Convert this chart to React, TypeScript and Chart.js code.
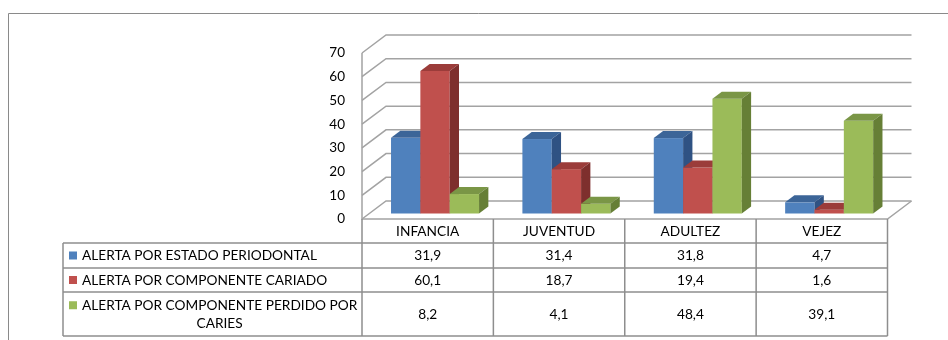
import React, { useEffect, useRef } from 'react';
import { Chart, registerables } from 'chart.js';

Chart.register(...registerables);

// ---------- data ----------
const CATEGORIES = ['INFANCIA', 'JUVENTUD', 'ADULTEZ', 'VEJEZ'];
const SERIES_NAMES = [
  'ALERTA POR ESTADO PERIODONTAL',
  'ALERTA POR COMPONENTE CARIADO',
  'ALERTA POR COMPONENTE PERDIDO POR CARIES',
];
const PERIODONTAL = [31.9, 31.4, 31.8, 4.7];
const CARIADO = [60.1, 18.7, 19.4, 1.6];
const PERDIDO = [8.2, 4.1, 48.4, 39.1];
const Y_MIN = 0;
const Y_MAX = 70;
const Y_STEP = 10;

// ---------- styles ----------
const FRONT = ['#4F81BD', '#C0504D', '#9BBB59'];
const TOP = ['#3C6598', '#9B3C3A', '#7A9646'];
const SIDE = ['#2F5283', '#7E2F2D', '#667F36'];
const GRID = '#a3a3a3';
const TABLE_LINE = '#8e8e8e';
const FONT = '13.7px Lato';
const TEXT = '#000000';

const DEPTH_X = 24;
const DEPTH_Y = 18;
const BAR_DX = 9.3;
const BAR_DY = 7;

const TABLE_LEFT = 63;
const ROW_LINES = [243, 268, 292, 336];
const LABEL_TEXT_X = 82;

function fmt(v: number) {
  return v.toFixed(1).replace('.', ',');
}

function wrap(ctx: CanvasRenderingContext2D, text: string, maxW: number) {
  const words = text.split(' ');
  const lines: string[] = [];
  let cur = '';
  for (const w of words) {
    const test = cur ? cur + ' ' + w : w;
    if (ctx.measureText(test).width > maxW && cur) {
      lines.push(cur);
      cur = w;
    } else cur = test;
  }
  if (cur) lines.push(cur);
  return lines;
}

const threeD = {
  id: 'threeD',
  beforeDatasetsDraw(chart: any) {
    const ctx: CanvasRenderingContext2D = chart.ctx;
    const { left, right } = chart.chartArea;
    const ys = chart.scales.y;
    ctx.save();
    ctx.strokeStyle = GRID;
    ctx.lineWidth = 1.5;
    // walls / gridlines
    ys.ticks.forEach((t: any) => {
      const py = ys.getPixelForValue(t.value);
      ctx.beginPath();
      ctx.moveTo(left, py);
      ctx.lineTo(left + DEPTH_X, py - DEPTH_Y);
      ctx.lineTo(right + DEPTH_X, py - DEPTH_Y);
      ctx.stroke();
    });
    const y0 = ys.getPixelForValue(Y_MIN);
    const yTop = ys.getPixelForValue(Y_MAX);
    ctx.beginPath();
    ctx.moveTo(left, yTop);
    ctx.lineTo(left, y0);
    ctx.lineTo(right, y0);
    ctx.lineTo(right + DEPTH_X, y0 - DEPTH_Y);
    ctx.stroke();

    // bars
    const metas = chart.getSortedVisibleDatasetMetas();
    const offX = (DEPTH_X - BAR_DX) / 2;
    const offY = (DEPTH_Y - BAR_DY) / 2;
    for (let i = 0; i < CATEGORIES.length; i++) {
      metas.forEach((meta: any, di: number) => {
        const el = meta.data[i];
        const p = el.getProps(['x', 'y', 'base', 'width'], true);
        const x0 = p.x - p.width / 2 + offX;
        const x1 = p.x + p.width / 2 + offX;
        const t = p.y - offY;
        const b = p.base - offY;
        ctx.fillStyle = FRONT[di];
        ctx.fillRect(x0, t, x1 - x0, b - t);
        ctx.fillStyle = TOP[di];
        ctx.beginPath();
        ctx.moveTo(x0, t);
        ctx.lineTo(x1, t);
        ctx.lineTo(x1 + BAR_DX, t - BAR_DY);
        ctx.lineTo(x0 + BAR_DX, t - BAR_DY);
        ctx.closePath();
        ctx.fill();
        ctx.fillStyle = SIDE[di];
        ctx.beginPath();
        ctx.moveTo(x1, t);
        ctx.lineTo(x1 + BAR_DX, t - BAR_DY);
        ctx.lineTo(x1 + BAR_DX, b - BAR_DY);
        ctx.lineTo(x1, b);
        ctx.closePath();
        ctx.fill();
      });
    }
    ctx.restore();
    return false;
  },
  afterDraw(chart: any) {
    const ctx: CanvasRenderingContext2D = chart.ctx;
    const { left, right } = chart.chartArea;
    const ys = chart.scales.y;
    const xs = chart.scales.x;
    const y0 = ys.getPixelForValue(Y_MIN);
    const colW = (right - left) / CATEGORIES.length;
    ctx.save();

    // outer frame
    ctx.strokeStyle = '#8a8a8a';
    ctx.lineWidth = 1;
    ctx.beginPath();
    ctx.moveTo(8.5, 340);
    ctx.lineTo(8.5, 13.5);
    ctx.lineTo(948, 13.5);
    ctx.stroke();

    // table lines
    ctx.strokeStyle = TABLE_LINE;
    ctx.lineWidth = 1.5;
    ctx.beginPath();
    for (let i = 0; i <= CATEGORIES.length; i++) {
      const x = left + i * colW;
      ctx.moveTo(x, y0);
      ctx.lineTo(x, ROW_LINES[ROW_LINES.length - 1]);
    }
    ROW_LINES.forEach((ly) => {
      ctx.moveTo(TABLE_LEFT, ly);
      ctx.lineTo(right, ly);
    });
    ctx.moveTo(TABLE_LEFT, ROW_LINES[0]);
    ctx.lineTo(TABLE_LEFT, ROW_LINES[ROW_LINES.length - 1]);
    ctx.stroke();

    ctx.font = FONT;
    ctx.fillStyle = TEXT;
    ctx.textBaseline = 'middle';
    ctx.textAlign = 'center';
    // header
    CATEGORIES.forEach((c, i) => {
      ctx.fillText(c, xs.getPixelForValue(i), (y0 + ROW_LINES[0]) / 2 + 1);
    });

    const seriesVals = [PERIODONTAL, CARIADO, PERDIDO];
    const rowTops = [ROW_LINES[0], ROW_LINES[1], ROW_LINES[2]];
    const rowBots = [ROW_LINES[1], ROW_LINES[2], ROW_LINES[3]];
    seriesVals.forEach((vals, r) => {
      const cy = (rowTops[r] + rowBots[r]) / 2;
      // legend square
      ctx.fillStyle = FRONT[r];
      const lines = wrap(ctx, SERIES_NAMES[r], left - LABEL_TEXT_X - 1);
      const lh = 17.5;
      const firstY = cy - ((lines.length - 1) * lh) / 2;
      ctx.fillRect(TABLE_LEFT + 6, firstY - 4, 8, 8);
      ctx.fillStyle = TEXT;
      const w0 = ctx.measureText(lines[0]).width;
      lines.forEach((ln, li) => {
        if (li === 0) {
          ctx.textAlign = 'left';
          ctx.fillText(ln, LABEL_TEXT_X, firstY + li * lh + 0.5);
        } else {
          ctx.textAlign = 'center';
          ctx.fillText(ln, LABEL_TEXT_X + w0 / 2, firstY + li * lh + 0.5);
        }
      });
      ctx.textAlign = 'center';
      vals.forEach((v, i) => {
        ctx.fillText(fmt(v), xs.getPixelForValue(i), cy + 0.5);
      });
    });
    ctx.restore();
  },
};

export default function App() {
  const ref = useRef<HTMLCanvasElement | null>(null);
  useEffect(() => {
    if (!ref.current) return;
    const chart = new Chart(ref.current, {
      type: 'bar',
      data: {
        labels: CATEGORIES,
        datasets: [
          { label: SERIES_NAMES[0], data: PERIODONTAL, backgroundColor: FRONT[0] },
          { label: SERIES_NAMES[1], data: CARIADO, backgroundColor: FRONT[1] },
          { label: SERIES_NAMES[2], data: PERDIDO, backgroundColor: FRONT[2] },
        ],
      },
      options: {
        responsive: false,
        maintainAspectRatio: false,
        animation: false,
        devicePixelRatio: 1,
        layout: { padding: { left: 302, right: 60.5, top: 53, bottom: 121 } },
        plugins: { legend: { display: false }, tooltip: { enabled: false } },
        datasets: { bar: { categoryPercentage: 0.67, barPercentage: 1 } },
        scales: {
          x: { display: false, offset: true },
          y: {
            min: Y_MIN,
            max: Y_MAX,
            grid: { display: false, drawTicks: false },
            border: { display: false },
            ticks: { stepSize: Y_STEP, padding: 17, color: TEXT, font: { family: 'Lato', size: 13.5 } },
            afterFit: (s: any) => {
              s.width = 60;
            },
          },
        },
      },
      plugins: [threeD],
    } as any);
    return () => chart.destroy();
  }, []);
  return (
    <div style={{ position: 'absolute', left: 0, top: 0, width: 948, height: 340, background: '#fff' }}>
      <canvas ref={ref} width={948} height={340} style={{ display: 'block' }} />
    </div>
  );
}
